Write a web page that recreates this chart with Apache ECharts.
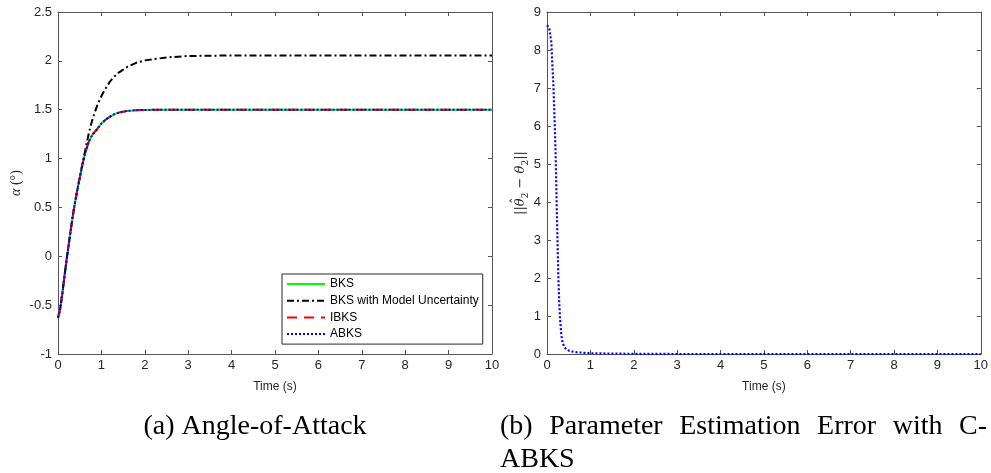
<!DOCTYPE html>
<html>
<head>
<meta charset="utf-8">
<script src="https://cdn.jsdelivr.net/npm/echarts@6/dist/echarts.min.js"></script>
<style>
html,body{margin:0;padding:0;background:#fff;}
#chart{width:991px;height:473px;}
</style>
</head>
<body>
<div id="chart"></div>
<script>
// ---- data ----
var timeA = [0,0.05,0.1,0.15,0.2,0.25,0.3,0.35,0.4,0.45,0.5,0.55,0.6,0.65,0.7,0.75,0.8,0.9,1.0,1.1,1.2,1.3,1.4,1.5,1.6,1.8,2.0,2.5,3,4,5,6,7,8,9,10];
var bks   = [-0.63,-0.54,-0.38,-0.2,-0.03,0.13,0.29,0.44,0.57,0.69,0.80,0.91,1.01,1.09,1.16,1.21,1.25,1.30,1.36,1.40,1.43,1.455,1.47,1.48,1.488,1.495,1.498,1.5,1.5,1.5,1.5,1.5,1.5,1.5,1.5,1.5];
var bksUnc= [-0.63,-0.54,-0.38,-0.2,-0.03,0.13,0.29,0.44,0.57,0.69,0.80,0.92,1.03,1.13,1.24,1.33,1.41,1.54,1.64,1.72,1.79,1.84,1.88,1.91,1.94,1.98,2.005,2.035,2.05,2.055,2.055,2.055,2.055,2.055,2.055,2.055];
var ibks  = [-0.63,-0.54,-0.38,-0.2,-0.03,0.13,0.29,0.44,0.57,0.69,0.80,0.91,1.01,1.09,1.16,1.21,1.25,1.30,1.36,1.40,1.43,1.455,1.47,1.48,1.488,1.495,1.498,1.5,1.5,1.5,1.5,1.5,1.5,1.5,1.5,1.5];
var abks  = [-0.63,-0.54,-0.38,-0.2,-0.03,0.13,0.29,0.44,0.57,0.69,0.80,0.91,1.01,1.09,1.16,1.21,1.25,1.30,1.36,1.40,1.43,1.455,1.47,1.48,1.488,1.495,1.498,1.5,1.5,1.5,1.5,1.5,1.5,1.5,1.5,1.5];

var timeB = [0,0.05,0.1,0.12,0.15,0.18,0.2,0.22,0.24,0.26,0.28,0.3,0.33,0.36,0.4,0.45,0.5,0.6,0.7,0.8,1.0,1.5,2,3,4,5,6,7,8,9,10];
var errB  = [8.65,8.58,8.2,7.7,7.0,6.0,5.2,4.1,3.1,2.1,1.4,0.95,0.5,0.3,0.18,0.12,0.09,0.06,0.045,0.035,0.02,0.01,0.005,0,0,0,0,0,0,0,0];

var seriesNames = ['BKS','BKS with Model Uncertainty','IBKS','ABKS'];
var xName = 'Time (s)';
var captionA = '(a) Angle-of-Attack';
var captionB1 = '(b) Parameter Estimation Error with C-';
var captionB2 = 'ABKS';

function pairs(t, v){ return t.map(function(x,i){ return [x, v[i]]; }); }

var axisCol = '#555';
var txtCol = '#262626';
var sans = 'Liberation Sans';
var capFont = '28px "Liberation Serif"';

var mctx = document.createElement('canvas').getContext('2d');
function tw(text, font){ mctx.font = font; return mctx.measureText(text).width; }

function xAx(grid, show, pos){
  return {
    type:'value', gridIndex:grid, min:0, max:10, interval:1, position:pos,
    axisLine:{show:true, onZero:false, lineStyle:{color:axisCol, width:1}},
    axisTick:{show:true, inside:true, length:4, lineStyle:{color:axisCol}},
    splitLine:{show:false},
    axisLabel:{show:show, margin:5, color:txtCol, fontFamily:sans, fontSize:13},
    name: show ? xName : '', nameLocation:'middle', nameGap:27,
    nameTextStyle:{color:txtCol, fontFamily:sans, fontSize:12}
  };
}
function yAx(grid, show, pos, min, max, interval, name, nameGap, nts){
  return {
    type:'value', gridIndex:grid, min:min, max:max, interval:interval, position:pos,
    axisLine:{show:true, onZero:false, lineStyle:{color:axisCol, width:1}},
    axisTick:{show:true, inside:true, length:4, lineStyle:{color:axisCol}},
    splitLine:{show:false},
    axisLabel:{show:show, margin:6, color:txtCol, fontFamily:sans, fontSize:13},
    name: name || '', nameLocation:'middle', nameGap:nameGap || 0,
    nameTextStyle: nts || {}
  };
}

// justified first line of caption (b)
var words = captionB1.split(' ');
var bx0 = 500, bx1 = 987;
var wsum = 0; words.forEach(function(w){ wsum += tw(w, capFont); });
var gap = (bx1 - bx0 - wsum) / (words.length - 1);
var capGraphics = [
  {type:'text', style:{text:captionA, x:255, y:427, align:'center', verticalAlign:'middle', font:capFont, fill:'#000'}},
  {type:'text', style:{text:captionB2, x:bx0, y:460, align:'left', verticalAlign:'middle', font:capFont, fill:'#000'}}
];
var cx = bx0;
words.forEach(function(w){
  capGraphics.push({type:'text', style:{text:w, x:cx, y:427, align:'left', verticalAlign:'middle', font:capFont, fill:'#000'}});
  cx += tw(w, capFont) + gap;
});

// hat over first theta of right y label
var lf = '13px "DejaVu Serif"', lfi = 'italic 13px "DejaVu Serif"', sf = '9px "DejaVu Serif"';
var total = tw('||', lf) + tw('θ', lfi) + tw('2', sf) + tw(' − ', lf) + tw('θ', lfi) + tw('2', sf) + tw('||', lf);
var hatY = 183 + total/2 - tw('||', lf) - tw('θ', lfi)/2 - 1.5;
capGraphics.push({type:'text', rotation:Math.PI/2, x:517, y:hatY, style:{text:'ˆ', x:0, y:0, align:'center', verticalAlign:'middle', font:'13px "DejaVu Serif"', fill:txtCol}});

var chart = echarts.init(document.getElementById('chart'), null, {renderer:'canvas'});
var option = {
  animation:false,
  backgroundColor:'#fff',
  grid:[
    {left:58, right:499, top:12, bottom:119},
    {left:547, right:9, top:12, bottom:119}
  ],
  xAxis:[ xAx(0,true,'bottom'), xAx(0,false,'top'), xAx(1,true,'bottom'), xAx(1,false,'top') ],
  yAxis:[
    yAx(0,true,'left',-1,2.5,0.5,'{a|α} (°)',35,{color:txtCol, fontFamily:'Liberation Serif', fontSize:14, rich:{a:{fontStyle:'italic', fontFamily:'Liberation Serif', fontSize:14, color:txtCol}}}),
    yAx(0,false,'right',-1,2.5,0.5),
    yAx(1,true,'left',0,9,1,'||{i|θ}{s|2} − {i|θ}{s|2}||',17,{color:txtCol, fontFamily:'DejaVu Serif', fontSize:13, lineHeight:18, rich:{i:{fontStyle:'italic', fontFamily:'DejaVu Serif', fontSize:13, color:txtCol, lineHeight:18}, s:{fontFamily:'DejaVu Serif', fontSize:9, color:txtCol, verticalAlign:'bottom', lineHeight:18}}}),
    yAx(1,false,'right',0,9,1)
  ],
  legend:{
    orient:'vertical', left:282, top:274, itemWidth:38, itemHeight:12, itemGap:4.7,
    padding:[4,4,4,4], backgroundColor:'#fff', borderColor:'#262626', borderWidth:1,
    itemStyle:{opacity:0},
    textStyle:{color:'#000', fontFamily:sans, fontSize:12},
    data:seriesNames
  },
  series:[
    {name:seriesNames[0], type:'line', xAxisIndex:0, yAxisIndex:0, data:pairs(timeA,bks), showSymbol:false, symbol:'none',
     lineStyle:{color:'#00ff00', width:2, type:'solid'}, itemStyle:{color:'#00ff00'}},
    {name:seriesNames[1], type:'line', xAxisIndex:0, yAxisIndex:0, data:pairs(timeA,bksUnc), showSymbol:false, symbol:'none',
     lineStyle:{color:'#000', width:2, type:[7,3,2,3]}, itemStyle:{color:'#000'}},
    {name:seriesNames[2], type:'line', xAxisIndex:0, yAxisIndex:0, data:pairs(timeA,ibks), showSymbol:false, symbol:'none',
     lineStyle:{color:'#ff0000', width:2, type:[10,7]}, itemStyle:{color:'#ff0000'}},
    {name:seriesNames[3], type:'line', xAxisIndex:0, yAxisIndex:0, data:pairs(timeA,abks), showSymbol:false, symbol:'none',
     lineStyle:{color:'#0000ff', width:2, type:[2,2]}, itemStyle:{color:'#0000ff'}},
    {name:'err', type:'line', xAxisIndex:2, yAxisIndex:2, data:pairs(timeB,errB), showSymbol:false, symbol:'none',
     lineStyle:{color:'#0000ff', width:2.2, type:[2,2]}, itemStyle:{color:'#0000ff'}}
  ],
  graphic: capGraphics
};
chart.setOption(option);
</script>
</body>
</html>
